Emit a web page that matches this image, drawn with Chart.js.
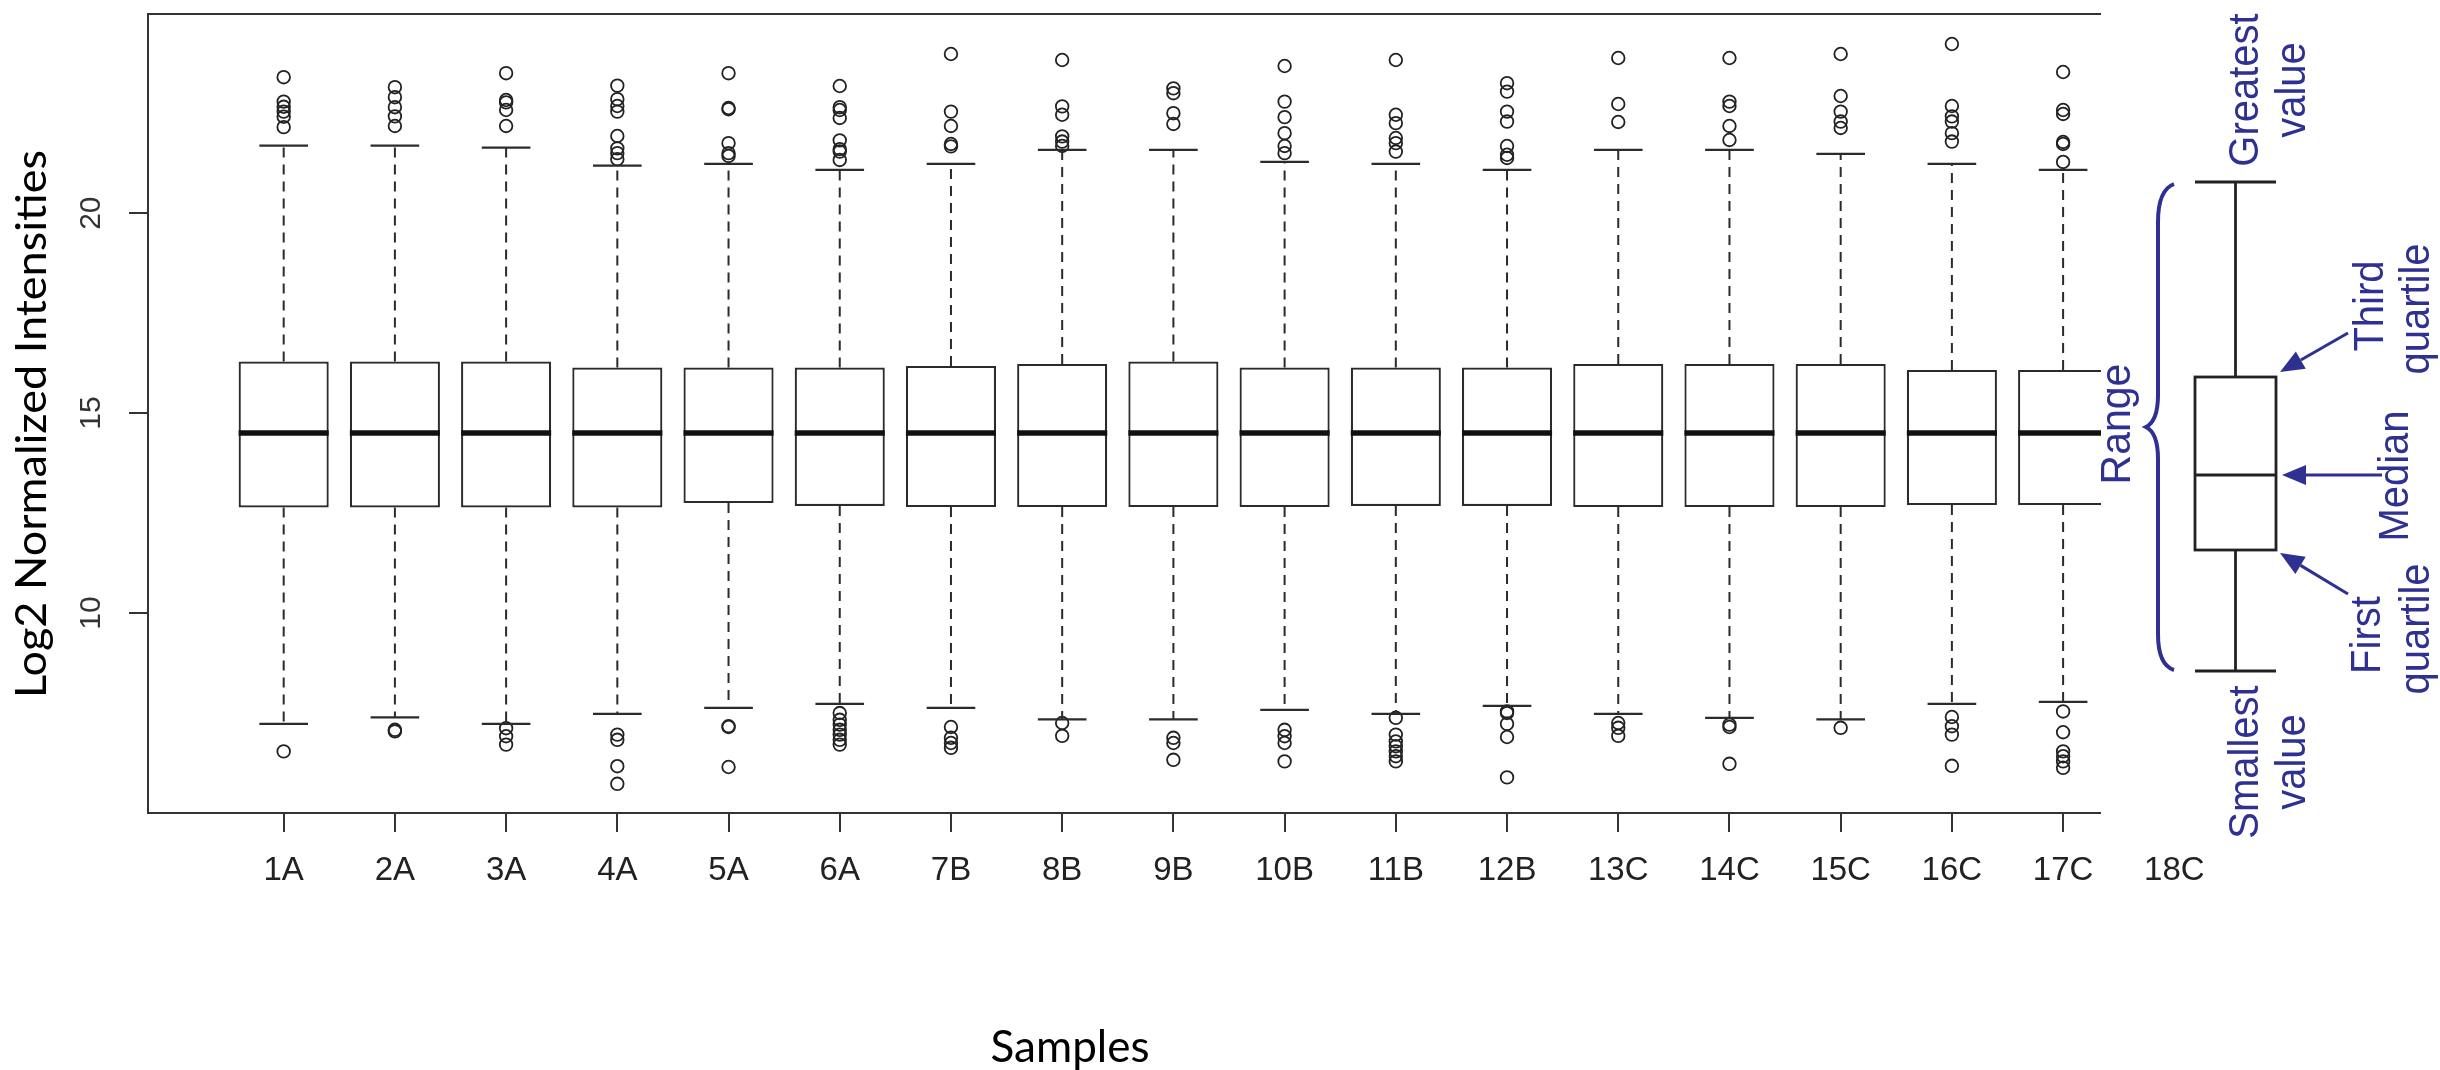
<!DOCTYPE html>
<html lang="en">
<head>
    <meta charset="UTF-8">
    <title>Log2 Normalized Intensities</title>
    <script src="https://cdn.jsdelivr.net/npm/chart.js"></script>
    <style>
        body { margin: 0; background: #fff; }
    </style>
</head>
<body>
    <canvas id="myChart" width="2440" height="1070"></canvas>
    <script>
        // sample labels (18C has no visible box, the picture covers it)
        const categories = ['1A', '2A', '3A', '4A', '5A', '6A', '7B', '8B', '9B', '10B', '11B', '12B', '13C', '14C', '15C', '16C', '17C', '18C'];
        const yTicks = [10, 15, 20];

        const q1 = [12.64, 12.64, 12.64, 12.64, 12.75, 12.68, 12.65, 12.65, 12.65, 12.65, 12.68, 12.68, 12.65, 12.65, 12.65, 12.70, 12.70];
        const medians = [14.5, 14.5, 14.5, 14.5, 14.5, 14.5, 14.5, 14.5, 14.5, 14.5, 14.5, 14.5, 14.5, 14.5, 14.5, 14.5, 14.5];
        const q3 = [16.29, 16.29, 16.29, 16.14, 16.14, 16.14, 16.18, 16.23, 16.29, 16.14, 16.14, 16.14, 16.23, 16.23, 16.23, 16.08, 16.08];
        const whiskerLow = [7.23, 7.39, 7.23, 7.48, 7.63, 7.73, 7.63, 7.34, 7.34, 7.58, 7.48, 7.68, 7.48, 7.38, 7.34, 7.73, 7.78];
        const whiskerHigh = [21.69, 21.69, 21.64, 21.19, 21.23, 21.08, 21.23, 21.58, 21.58, 21.28, 21.23, 21.08, 21.58, 21.58, 21.48, 21.23, 21.08];

        const outliersHigh = [
            [23.40, 22.79, 22.66, 22.54, 22.41, 22.15],
            [23.15, 22.90, 22.65, 22.42, 22.18],
            [23.50, 22.83, 22.77, 22.58, 22.18],
            [23.19, 22.85, 22.68, 22.54, 21.93, 21.62, 21.50, 21.35],
            [23.50, 22.63, 22.60, 21.75, 21.50, 21.43],
            [23.18, 22.65, 22.58, 22.38, 21.82, 21.60, 21.54, 21.33],
            [23.98, 22.54, 22.18, 21.73, 21.67],
            [23.83, 22.67, 22.46, 21.92, 21.79, 21.68],
            [23.12, 23.00, 22.50, 22.23],
            [23.68, 22.79, 22.40, 22.00, 21.68, 21.50],
            [23.83, 22.46, 22.25, 21.88, 21.75, 21.54],
            [23.25, 23.04, 22.54, 22.29, 21.68, 21.46, 21.38],
            [23.88, 22.73, 22.28],
            [23.88, 22.79, 22.68, 22.18, 21.83],
            [23.98, 22.93, 22.54, 22.29, 22.13],
            [24.23, 22.68, 22.42, 22.29, 22.00, 21.79],
            [23.53, 22.58, 22.48, 21.78, 21.73, 21.28]
        ];
        const outliersLow = [
            [6.54],
            [7.08, 7.04],
            [7.12, 6.92, 6.71],
            [6.96, 6.83, 6.17, 5.73],
            [7.17, 7.15, 6.15],
            [7.50, 7.33, 7.21, 7.08, 6.96, 6.83, 6.71],
            [7.15, 6.88, 6.75, 6.63],
            [7.25, 6.93],
            [6.88, 6.75, 6.33],
            [7.08, 6.92, 6.75, 6.29],
            [7.38, 6.96, 6.79, 6.67, 6.54, 6.42, 6.29],
            [7.54, 7.50, 7.23, 6.90, 5.89],
            [7.25, 7.13, 6.93],
            [7.21, 7.15, 6.23],
            [7.13],
            [7.40, 7.17, 6.96, 6.18],
            [7.54, 7.02, 6.54, 6.42, 6.29, 6.13]
        ];

        const navy = '#2e3192';
        const ink = '#2b2b2b';
        const pictureLeft = 2101; // where the explanatory picture starts

        const boxData = q1.map((v, i) => ({ x: i + 1, y: [v, q3[i]] }));
        const outlierData = [];
        outliersHigh.forEach((list, i) => list.forEach(v => outlierData.push({ x: i + 1, y: v })));
        outliersLow.forEach((list, i) => list.forEach(v => outlierData.push({ x: i + 1, y: v })));

        function line(ctx, x1, y1, x2, y2) {
            ctx.beginPath();
            ctx.moveTo(x1, y1);
            ctx.lineTo(x2, y2);
            ctx.stroke();
        }

        // text rotated to read bottom to top, baseX = baseline position
        function vtext(ctx, text, baseX, cy, font, color, stretch) {
            ctx.save();
            ctx.translate(baseX, cy);
            if (stretch) ctx.scale(stretch, 1);
            ctx.rotate(-Math.PI / 2);
            ctx.font = font;
            ctx.fillStyle = color;
            ctx.textAlign = 'center';
            ctx.textBaseline = 'alphabetic';
            ctx.fillText(text, 0, 0);
            ctx.restore();
        }

        function arrow(ctx, x1, y1, x2, y2) {
            const a = Math.atan2(y2 - y1, x2 - x1);
            const len = 24, w = 10;
            const bx = x2 - Math.cos(a) * len, by = y2 - Math.sin(a) * len;
            line(ctx, x1, y1, bx, by);
            ctx.beginPath();
            ctx.moveTo(x2, y2);
            ctx.lineTo(bx + Math.sin(a) * w, by - Math.cos(a) * w);
            ctx.lineTo(bx - Math.sin(a) * w, by + Math.cos(a) * w);
            ctx.closePath();
            ctx.fill();
        }

        function drawExplanation(ctx) {
            ctx.save();
            ctx.fillStyle = '#fff';
            ctx.fillRect(pictureLeft, 0, 2440 - pictureLeft, 845);

            // small box plot
            ctx.strokeStyle = '#222';
            ctx.lineWidth = 2.8;
            ctx.strokeRect(2195, 377, 81, 173);
            line(ctx, 2195, 475, 2276, 475);
            line(ctx, 2235.5, 182, 2235.5, 377);
            line(ctx, 2235.5, 550, 2235.5, 671);
            line(ctx, 2195, 182, 2276, 182);
            line(ctx, 2195, 671, 2276, 671);

            // brace
            ctx.strokeStyle = navy;
            ctx.lineWidth = 4;
            ctx.beginPath();
            ctx.moveTo(2174, 184);
            ctx.quadraticCurveTo(2158, 190, 2158, 222);
            ctx.lineTo(2158, 395);
            ctx.quadraticCurveTo(2158, 421, 2146, 427);
            ctx.quadraticCurveTo(2158, 433, 2158, 459);
            ctx.lineTo(2158, 634);
            ctx.quadraticCurveTo(2158, 665, 2174, 670);
            ctx.stroke();

            // arrows
            ctx.fillStyle = navy;
            ctx.lineWidth = 3;
            arrow(ctx, 2348, 333, 2280, 372);
            arrow(ctx, 2382, 475, 2282, 475);
            arrow(ctx, 2348, 594, 2280, 553);

            const f = '40px "Liberation Sans", Arial, sans-serif';
            vtext(ctx, 'Range', 2130, 424, '41px "Liberation Sans", Arial, sans-serif', navy, 1.05);
            vtext(ctx, 'Greatest', 2258, 90, f, navy, 1.05);
            vtext(ctx, 'value', 2305, 90, f, navy, 1.05);
            vtext(ctx, 'Smallest', 2258, 762, f, navy, 1.05);
            vtext(ctx, 'value', 2305, 762, f, navy, 1.05);
            vtext(ctx, 'Third', 2383, 306, f, navy, 1.05);
            vtext(ctx, 'quartile', 2429, 309, f, navy, 1.05);
            vtext(ctx, 'Median', 2408, 476, f, navy, 1.05);
            vtext(ctx, 'First', 2380, 635, f, navy, 1.05);
            vtext(ctx, 'quartile', 2429, 629, f, navy, 1.05);
            ctx.restore();
        }

        const boxParts = {
            id: 'boxParts',
            afterDatasetsDraw(chart) {
                const { ctx } = chart;
                const y = chart.scales.y;
                const bars = chart.getDatasetMeta(0).data;
                ctx.save();
                ctx.strokeStyle = ink;
                bars.forEach((bar, i) => {
                    const px = bar.x;
                    const half = bar.width / 2;
                    const cap = bar.width * 0.27;
                    const yHi = y.getPixelForValue(whiskerHigh[i]);
                    const yLo = y.getPixelForValue(whiskerLow[i]);

                    ctx.lineWidth = 2;
                    ctx.setLineDash([10, 7]);
                    line(ctx, px, y.getPixelForValue(q3[i]), px, yHi);
                    line(ctx, px, y.getPixelForValue(q1[i]), px, yLo);
                    ctx.setLineDash([]);
                    ctx.lineWidth = 2.2;
                    line(ctx, px - cap, yHi, px + cap, yHi);
                    line(ctx, px - cap, yLo, px + cap, yLo);

                    ctx.strokeStyle = '#111';
                    ctx.lineWidth = 5.5;
                    const ym = y.getPixelForValue(medians[i]);
                    line(ctx, px - half, ym, px + half, ym);
                    ctx.strokeStyle = ink;
                });
                ctx.restore();
            },
            afterDraw(chart) {
                const { ctx, chartArea } = chart;
                const y = chart.scales.y;
                ctx.save();
                // top of the frame
                ctx.strokeStyle = '#333';
                ctx.lineWidth = 2;
                line(ctx, chartArea.left - 1, chartArea.top, pictureLeft, chartArea.top);

                drawExplanation(ctx);

                // y tick labels, R style (parallel to the axis)
                yTicks.forEach(v => {
                    vtext(ctx, String(v), 100, y.getPixelForValue(v), '30px "Liberation Sans", Arial, sans-serif', '#333');
                });

                // axis titles
                vtext(ctx, 'Log2 Normalized Intensities', 46, 424, '45px Lato, sans-serif', '#000', 0.95);
                ctx.font = '44px Lato, sans-serif';
                ctx.fillStyle = '#000';
                ctx.textAlign = 'center';
                ctx.textBaseline = 'alphabetic';
                ctx.fillText('Samples', 1070, 1062);
                ctx.restore();
            }
        };

        const config = {
            type: 'bar',
            data: {
                datasets: [
                    {
                        type: 'bar',
                        data: boxData,
                        backgroundColor: '#fff',
                        borderColor: ink,
                        borderWidth: 2.2,
                        borderSkipped: false,
                        barPercentage: 0.81,
                        categoryPercentage: 1
                    },
                    {
                        type: 'scatter',
                        data: outlierData,
                        showLine: false,
                        pointStyle: 'circle',
                        pointRadius: 6.3,
                        pointHoverRadius: 6.3,
                        pointBorderWidth: 1.8,
                        pointBorderColor: '#222',
                        pointBackgroundColor: 'rgba(0,0,0,0)'
                    }
                ]
            },
            options: {
                responsive: false,
                devicePixelRatio: 1,
                animation: false,
                layout: { padding: { top: 14, left: 0, right: 130, bottom: 0 } },
                plugins: {
                    legend: { display: false },
                    tooltip: { enabled: false }
                },
                scales: {
                    x: {
                        type: 'linear',
                        min: -0.22,
                        max: 19.22,
                        offset: false,
                        afterFit: (scale) => { scale.height = 257; },
                        afterBuildTicks: (scale) => {
                            scale.ticks = categories.map((c, i) => ({ value: i + 1 }));
                        },
                        ticks: {
                            autoSkip: false,
                            maxRotation: 0,
                            minRotation: 0,
                            padding: 19,
                            color: '#222',
                            font: { family: '"Liberation Sans", Arial, sans-serif', size: 33 },
                            callback: (v) => categories[v - 1]
                        },
                        grid: {
                            offset: false,
                            drawOnChartArea: false,
                            tickLength: 19,
                            color: '#333',
                            lineWidth: 2
                        },
                        border: { display: true, color: '#333', width: 2 }
                    },
                    y: {
                        min: 5.0,
                        max: 24.98,
                        afterFit: (scale) => { scale.width = 148; },
                        afterBuildTicks: (scale) => {
                            scale.ticks = yTicks.map(v => ({ value: v }));
                        },
                        ticks: { display: false },
                        grid: {
                            drawOnChartArea: false,
                            tickLength: 19,
                            color: '#333',
                            lineWidth: 2
                        },
                        border: { display: true, color: '#333', width: 2 }
                    }
                }
            },
            plugins: [boxParts]
        };

        const myChart = new Chart(document.getElementById('myChart'), config);
    </script>
</body>
</html>
